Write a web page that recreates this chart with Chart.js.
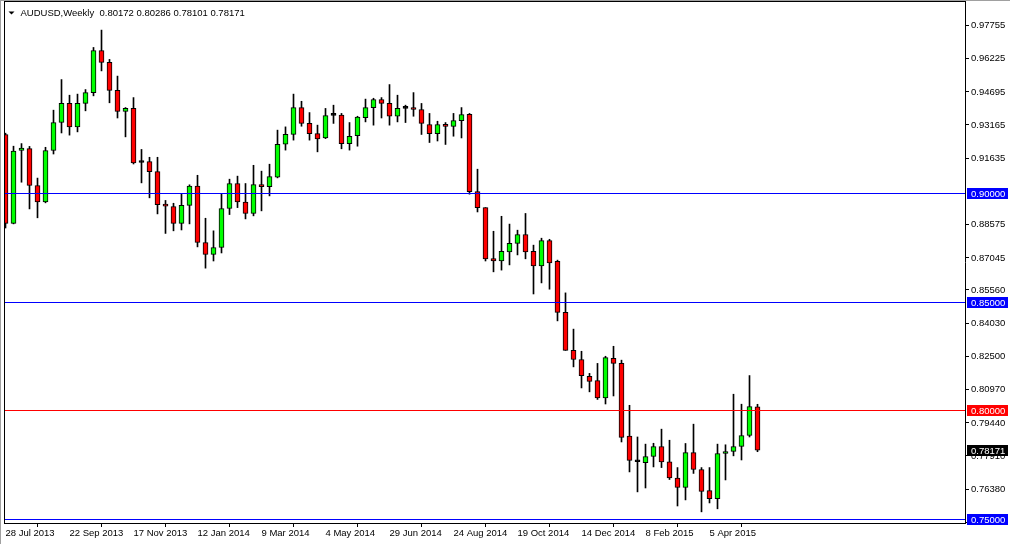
<!DOCTYPE html>
<html>
<head>
<meta charset="utf-8">
<script src="https://cdn.jsdelivr.net/npm/chart.js@4.4.1/dist/chart.umd.min.js"></script>
<style>
  html, body { margin: 0; padding: 0; background: #fff; }
  #chart { display: block; }
</style>
</head>
<body>
<canvas id="chart" width="1010" height="544"></canvas>
<script>
// AUDUSD weekly, 28 Jul 2013 .. 17 May 2015
const opens = [0.9272,0.8862,0.9198,0.9207,0.9037,0.8961,0.9198,0.9327,0.9415,0.9307,
  0.9415,0.9465,0.9659,0.9604,0.9475,0.9378,0.9392,0.9143,0.9147,0.9101,
  0.8951,0.8940,0.8862,0.8945,0.9034,0.8774,0.8719,0.8751,0.8931,0.9046,
  0.8961,0.8908,0.9041,0.9032,0.9075,0.9227,0.9272,0.9396,0.9323,0.9276,
  0.9256,0.9360,0.9361,0.9230,0.9267,0.9350,0.9396,0.9433,0.9415,0.9356,
  0.9392,0.9392,0.9387,0.9318,0.9276,0.9318,0.9309,0.9336,0.9365,0.9009,
  0.8935,0.8700,0.8689,0.8731,0.8770,0.8811,0.8733,0.8666,0.8783,0.8687,
  0.8452,0.8277,0.8235,0.8157,0.8138,0.8058,0.8240,0.8217,0.7882,0.7764,
  0.7760,0.7788,0.7834,0.7763,0.7689,0.7645,0.7806,0.7728,0.7631,0.7594,
  0.7802,0.7811,0.7834,0.7885,0.80172];
const highs = [0.9278,0.9218,0.9230,0.9217,0.9071,0.9213,0.9384,0.9525,0.9453,0.9458,
  0.9479,0.9673,0.9753,0.9618,0.9541,0.9396,0.9442,0.9203,0.9167,0.9167,
  0.8968,0.8955,0.9000,0.9040,0.9084,0.8886,0.8828,0.9000,0.9066,0.9080,
  0.9046,0.9130,0.9103,0.9135,0.9292,0.9307,0.9458,0.9425,0.9373,0.9315,
  0.9392,0.9407,0.9369,0.9327,0.9356,0.9435,0.9439,0.9442,0.9502,0.9453,
  0.9407,0.9465,0.9415,0.9369,0.9333,0.9327,0.9369,0.9396,0.9369,0.9112,
  0.8935,0.8826,0.8895,0.8859,0.8831,0.8908,0.8762,0.8794,0.8789,0.8693,
  0.8542,0.8375,0.8273,0.8171,0.8217,0.8250,0.8296,0.8232,0.8024,0.7878,
  0.7845,0.7849,0.7914,0.7863,0.7737,0.7848,0.7937,0.7737,0.7737,0.7845,
  0.7842,0.8075,0.8029,0.8161,0.80286];
const lows = [0.8841,0.8860,0.9052,0.8929,0.8888,0.8957,0.9182,0.9279,0.9269,0.9284,
  0.9381,0.9450,0.9565,0.9418,0.9348,0.9261,0.9136,0.9049,0.8980,0.8906,
  0.8816,0.8828,0.8832,0.8860,0.8754,0.8656,0.8689,0.8726,0.8903,0.8935,
  0.8883,0.8897,0.8920,0.8989,0.9072,0.9200,0.9246,0.9310,0.9246,0.9192,
  0.9253,0.9323,0.9206,0.9200,0.9218,0.9330,0.9315,0.9348,0.9315,0.9330,
  0.9327,0.9356,0.9272,0.9235,0.9242,0.9226,0.9264,0.9256,0.8997,0.8915,
  0.8689,0.8639,0.8647,0.8671,0.8717,0.8699,0.8537,0.8588,0.8559,0.8413,
  0.8277,0.8201,0.8104,0.8086,0.8051,0.8030,0.8067,0.7855,0.7717,0.7625,
  0.7643,0.7740,0.7737,0.7682,0.7560,0.7588,0.7710,0.7533,0.7574,0.7547,
  0.7680,0.7791,0.7772,0.7878,0.78101];
const closes = [0.8862,0.9195,0.9209,0.9037,0.8961,0.9198,0.9327,0.9415,0.9307,0.9415,
  0.9465,0.9659,0.9604,0.9475,0.9378,0.9392,0.9141,0.9143,0.9101,0.8949,
  0.8942,0.8862,0.8945,0.9034,0.8774,0.8719,0.8751,0.8931,0.9046,0.8961,
  0.8908,0.9041,0.9032,0.9078,0.9227,0.9273,0.9396,0.9323,0.9276,0.9252,
  0.9359,0.9360,0.9230,0.9264,0.9352,0.9396,0.9433,0.9415,0.9356,0.9392,
  0.9392,0.9387,0.9323,0.9276,0.9318,0.9309,0.9336,0.9364,0.9009,0.8935,
  0.8699,0.8689,0.8733,0.8770,0.8811,0.8731,0.8666,0.8783,0.8680,0.8452,
  0.8277,0.8235,0.8161,0.8134,0.8058,0.8244,0.8217,0.7876,0.7770,0.7764,
  0.7788,0.7834,0.7763,0.7689,0.7645,0.7806,0.7728,0.7627,0.7594,0.7802,
  0.7811,0.7834,0.7885,0.8018,0.78171];

// one label every 8 weeks
const dateLabels = ["28 Jul 2013","22 Sep 2013","17 Nov 2013","12 Jan 2014","9 Mar 2014","4 May 2014",
  "29 Jun 2014","24 Aug 2014","19 Oct 2014","14 Dec 2014","8 Feb 2015","5 Apr 2015"];
const yTicks = [0.97755,0.96225,0.94695,0.93165,0.91635,0.88575,0.87045,0.85560,0.84030,
  0.82500,0.80970,0.79440,0.77910,0.76380,0.74850];

const levels = [0.90, 0.85, 0.80, 0.75];
const levelColors = ["#0000ff", "#0000ff", "#ff0000", "#0000ff"];
const lastPrice = 0.78171;
const title = "AUDUSD,Weekly  0.80172 0.80286 0.78101 0.78171";

const FONT = "'Liberation Sans', Arial, sans-serif";
const FSIZE = 9.5;

const overlay = {
  id: 'overlay',
  afterDatasetsDraw(chart) {
    const { ctx, chartArea: a } = chart;
    const y = chart.scales.y;
    ctx.save();
    levels.forEach((lv, k) => {
      const py = Math.floor(y.getPixelForValue(lv));
      ctx.fillStyle = levelColors[k];
      ctx.fillRect(a.left, py, a.right - a.left, 1);
    });
    ctx.restore();
  },
  afterDraw(chart) {
    const { ctx, chartArea: a } = chart;
    const y = chart.scales.y;
    ctx.save();
    ctx.font = FSIZE + "px " + FONT;
    ctx.textBaseline = 'middle';
    ctx.textAlign = 'left';

    // axis labels
    ctx.fillStyle = '#000';
    yTicks.forEach(v => {
      ctx.fillText(v.toFixed(5), a.right + 6, Math.round(y.getPixelForValue(v)) + 0.5);
    });

    // price boxes on the axis
    const box = (v, bg) => {
      const py = Math.floor(y.getPixelForValue(v));
      ctx.fillStyle = bg;
      ctx.fillRect(a.right + 2, py - 5, 41, 11);
      ctx.fillStyle = '#fff';
      ctx.fillText(v.toFixed(5), a.right + 6, py + 1);
    };
    levels.forEach((lv, k) => box(lv, levelColors[k]));
    box(lastPrice, '#000');

    // frame
    ctx.fillStyle = '#000';
    ctx.fillRect(a.left, a.top, 1, a.bottom - a.top);
    ctx.fillRect(a.left, a.top, a.right - a.left, 1);
    ctx.fillStyle = '#a0a0a0';
    ctx.fillRect(0, 0, 1, 544);
    ctx.fillRect(0, 0, 1010, 1);

    // title
    ctx.fillStyle = '#000';
    ctx.beginPath();
    ctx.moveTo(8.5, 11.5);
    ctx.lineTo(14.5, 11.5);
    ctx.lineTo(11.5, 14.5);
    ctx.closePath();
    ctx.fill();
    ctx.fillText(title, 20.5, 13.5);
    ctx.restore();
  }
};

const wickData = highs.map((h, i) => ({ x: i, y: [lows[i], h] }));
const bodyData = opens.map((o, i) => ({ x: i, y: [o, closes[i]] }));
const bodyColors = opens.map((o, i) => closes[i] > o ? '#00ff00' : (closes[i] < o ? '#ff0000' : '#000'));

new Chart(document.getElementById('chart'), {
  type: 'bar',
  data: {
    datasets: [
      { label: 'wick', data: wickData, backgroundColor: '#000', borderWidth: 0,
        grouped: false, barPercentage: 1, categoryPercentage: 1, maxBarThickness: 1, order: 2 },
      { label: 'body', data: bodyData, backgroundColor: bodyColors, borderColor: '#000',
        borderWidth: 1, borderSkipped: false, minBarLength: 2,
        grouped: false, barPercentage: 1, categoryPercentage: 1, maxBarThickness: 5, order: 1 }
    ]
  },
  options: {
    responsive: false,
    animation: false,
    layout: { padding: { left: 4, top: 1, right: 0, bottom: 0 } },
    plugins: { legend: { display: false }, tooltip: { enabled: false } },
    scales: {
      x: {
        type: 'linear',
        min: -0.1875,
        max: 119.9375,
        offset: false,
        grid: { drawOnChartArea: false, drawTicks: true, tickLength: 4, color: '#000' },
        border: { color: '#000' },
        ticks: {
          align: 'start', padding: 1, color: '#000', maxRotation: 0, autoSkip: false,
          font: { family: FONT, size: FSIZE },
          callback: v => dateLabels[v / 8]
        },
        afterBuildTicks: s => { s.ticks = dateLabels.map((d, k) => ({ value: k * 8 })); },
        afterFit: s => { s.height = 21; }
      },
      y: {
        position: 'right',
        min: 0.748157,
        max: 0.988710,
        grid: { drawOnChartArea: false, drawTicks: true, tickLength: 4, color: '#000' },
        border: { color: '#000' },
        ticks: { display: false },
        afterBuildTicks: s => { s.ticks = yTicks.map(v => ({ value: v })); },
        afterFit: s => { s.width = 45; }
      }
    }
  },
  plugins: [overlay]
});
</script>
</body>
</html>
